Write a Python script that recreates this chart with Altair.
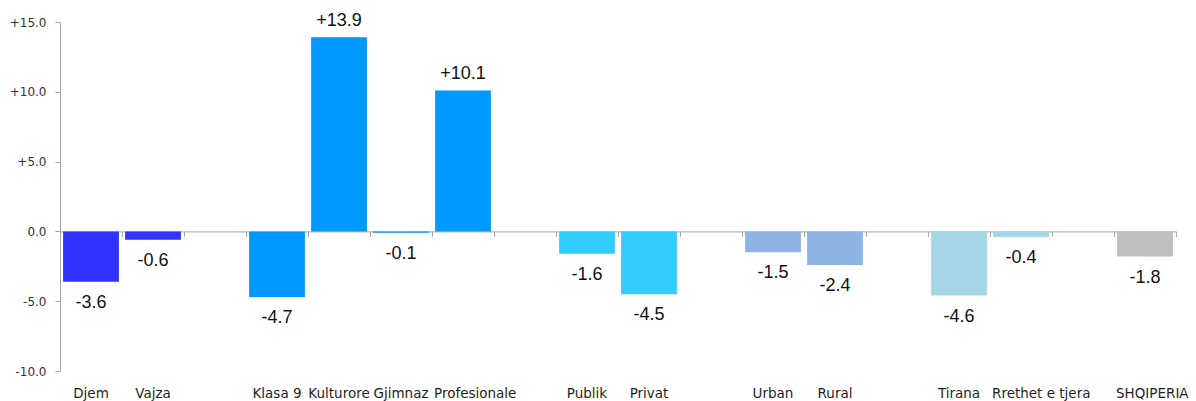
import altair as alt
import pandas as pd

# slot order along the axis (blank slots separate the groups)
slots = ["Djem", "Vajza", " ", "Klasa 9", "Kulturore", "Gjimnaz", "Profesionale", "  ",
         "Publik", "Privat", "   ", "Urban", "Rural", "    ", "Tirana", "Rrethet e tjera",
         "     ", "SHQIPERIA"]

categories = ["Djem", "Vajza", "Klasa 9", "Kulturore", "Gjimnaz", "Profesionale",
              "Publik", "Privat", "Urban", "Rural", "Tirana", "Rrethet e tjera", "SHQIPERIA"]
values = [-3.6, -0.6, -4.7, 13.9, -0.1, 10.1, -1.6, -4.5, -1.5, -2.4, -4.6, -0.4, -1.8]
colors = ["#3333FF", "#3333FF", "#0099FF", "#0099FF", "#0099FF", "#0099FF",
          "#33CCFF", "#33CCFF", "#8DB4E2", "#8DB4E2", "#A5D6E6", "#A5D6E6", "#BFBFBF"]
# long labels drawn from the start of their slot instead of centred
left_labels = ["Profesionale", "Rrethet e tjera", "SHQIPERIA"]

df = pd.DataFrame({"cat": categories, "val": values, "color": colors})
df["label"] = [("+%.1f" % v) if v > 0 else ("%.1f" % v) for v in values]

W, H = 1116, 349
zero_from_bottom = H * 10 / 25

xscale = alt.Scale(domain=slots, paddingInner=0.1, paddingOuter=0.05)
yscale = alt.Scale(domain=[-10, 15], nice=False, zero=False)

left_test = "indexof(" + str(left_labels).replace('"', "'") + ", datum.value) >= 0"

y_axis = alt.Axis(
    values=[-10, -5, 0, 5, 10, 15], grid=False, title=None,
    labelExpr="datum.value > 0 ? '+' + format(datum.value, '.1f') : (datum.value < 0 ? '-' + format(-datum.value, '.1f') : '0.0')",
    domainColor="#A6A6A6", tickColor="#A6A6A6", tickSize=5, labelPadding=9,
    labelFont="DejaVu Sans", labelFontSize=12, labelColor="#333333",
)

bars = alt.Chart(df).mark_bar(stroke=None).encode(
    x=alt.X("cat:N", scale=xscale, sort=slots,
            axis=alt.Axis(title=None, labelAngle=0, domain=False, ticks=False,
                          labelFont="DejaVu Sans", labelFontSize=13.5,
                          labelColor="#1F1F1F", labelPadding=15,
                          labelAlign={"condition": {"test": left_test, "value": "left"}, "value": "center"},
                          labelOffset={"condition": {"test": left_test, "value": -29}, "value": 0})),
    y=alt.Y("val:Q", scale=yscale, axis=y_axis),
    color=alt.Color("color:N", scale=None, legend=None),
)

# zero line with category-boundary ticks
zero_axis = alt.Chart(df).mark_text(text="").encode(
    x=alt.X("cat:N", scale=xscale, sort=slots,
            axis=alt.Axis(title=None, orient="bottom", labels=False, offset=-zero_from_bottom,
                          domainColor="#A6A6A6", tickColor="#A6A6A6", tickSize=5,
                          bandPosition=1, tickExtra=True, tickOffset=3.1)),
    y=alt.Y("val:Q", scale=yscale),
)

pos_text = alt.Chart(df).transform_filter("datum.val > 0").mark_text(
    baseline="bottom", dy=-7, font="Liberation Sans", fontSize=18, color="#111111"
).encode(
    x=alt.X("cat:N", scale=xscale, sort=slots, axis=None),
    y=alt.Y("val:Q", scale=yscale),
    text="label:N",
)

neg_text = alt.Chart(df).transform_filter("datum.val <= 0").mark_text(
    baseline="top", dy=12, font="Liberation Sans", fontSize=18, color="#111111"
).encode(
    x=alt.X("cat:N", scale=xscale, sort=slots, axis=None),
    y=alt.Y("val:Q", scale=yscale),
    text="label:N",
)

chart = alt.layer(bars, zero_axis, pos_text, neg_text).resolve_axis(
    x="independent"
).properties(
    width=W, height=H,
    autosize=alt.AutoSizeParams(type="none"),
    padding={"left": 52, "top": 14, "right": 12, "bottom": 30},
).configure_view(stroke=None)

chart.save("out.html", embed_options={"renderer": "svg", "actions": False})
